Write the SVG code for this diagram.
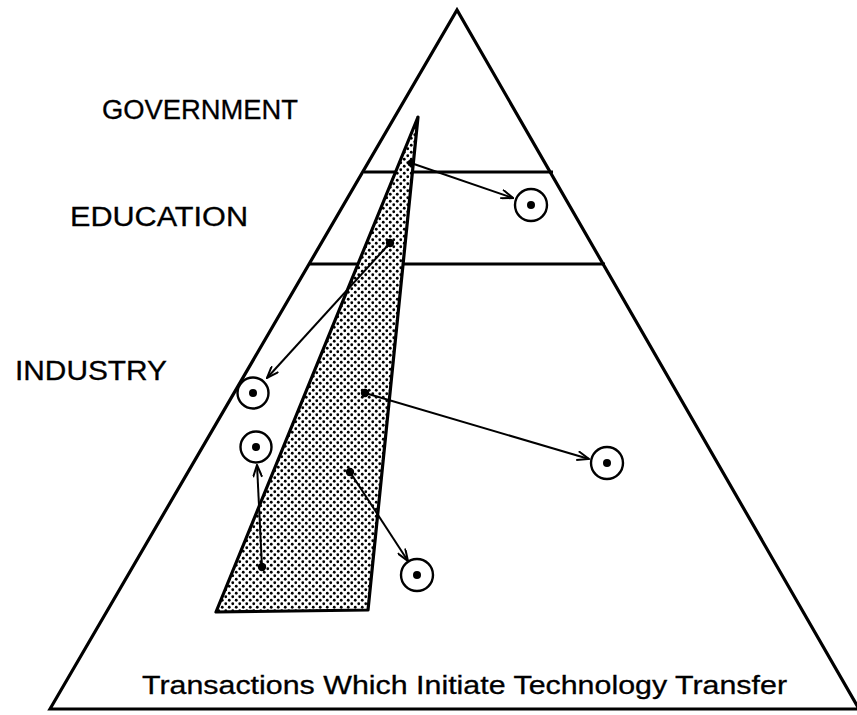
<svg xmlns="http://www.w3.org/2000/svg" width="857" height="715" viewBox="0 0 857 715">
<defs>
<pattern id="stip" width="7" height="7" patternUnits="userSpaceOnUse">
<rect width="7" height="7" fill="#fff"/>
<circle cx="1.75" cy="1.75" r="1.4" fill="#000"/>
<circle cx="5.25" cy="5.25" r="1.4" fill="#000"/>
</pattern>
<marker id="arr" viewBox="0 0 14 10" refX="13" refY="5" markerWidth="14" markerHeight="10" markerUnits="userSpaceOnUse" orient="auto">
<path d="M1,0.5 L13,5 L1,9.5" fill="none" stroke="#000" stroke-width="2"/>
</marker>
<style>
.edge{fill:none;stroke:#000;stroke-width:3.2;stroke-linejoin:miter}
.conn{fill:none;stroke:#000;stroke-width:2;marker-end:url(#arr)}
.ring{fill:#fff;stroke:#000;stroke-width:2.4}
.lbl{font-family:"Liberation Sans",Arial,sans-serif;font-size:27px;fill:#000;stroke:#000;stroke-width:0.3}
.cap{font-family:"Liberation Sans",Arial,sans-serif;font-size:26px;fill:#000;stroke:#000;stroke-width:0.3}
</style>
</defs>
<rect width="857" height="715" fill="#fff"/>
<g id="pyramid">
<path class="edge" d="M50,709 L457,10 L859,709 Z"/>
<line class="edge" x1="364" y1="172" x2="553" y2="172"/>
<line class="edge" x1="310" y1="264" x2="605" y2="264"/>
</g>
<g id="wedge">
<path d="M418,117 L216,612 L368,610 Z" fill="url(#stip)" stroke="#000" stroke-width="3.2" stroke-linejoin="round"/>
</g>
<g id="labels">
<text class="lbl" x="102" y="119" textLength="196" lengthAdjust="spacingAndGlyphs">GOVERNMENT</text>
<text class="lbl" x="70" y="226" textLength="178" lengthAdjust="spacingAndGlyphs">EDUCATION</text>
<text class="lbl" x="15" y="380" textLength="152" lengthAdjust="spacingAndGlyphs">INDUSTRY</text>
<text class="cap" x="142" y="694" textLength="645" lengthAdjust="spacingAndGlyphs">Transactions Which Initiate Technology Transfer</text>
</g>
<g id="connectors">
<line class="conn" x1="411" y1="163" x2="513" y2="198"/>
<line class="conn" x1="390" y1="243" x2="267" y2="378"/>
<line class="conn" x1="365" y1="393" x2="589" y2="459"/>
<line class="conn" x1="350" y1="472" x2="408" y2="561"/>
<line class="conn" x1="262" y1="567" x2="257" y2="465"/>
</g>
<g id="sources">
<circle cx="411" cy="163" r="3.5"/>
<circle cx="390" cy="243" r="4.2"/>
<circle cx="365" cy="393" r="4.2"/>
<circle cx="350" cy="472" r="4.2"/>
<circle cx="262" cy="567" r="4.2"/>
</g>
<g id="target-education">
<circle class="ring" cx="531" cy="205" r="16"/>
<circle cx="531" cy="205" r="4"/>
</g>
<g id="target-industry-1">
<circle class="ring" cx="253" cy="393" r="15.5"/>
<circle cx="253" cy="393" r="4"/>
</g>
<g id="target-industry-2">
<circle class="ring" cx="256" cy="447" r="15.5"/>
<circle cx="256" cy="447" r="4"/>
</g>
<g id="target-industry-3">
<circle class="ring" cx="607" cy="463" r="16"/>
<circle cx="607" cy="463" r="4"/>
</g>
<g id="target-industry-4">
<circle class="ring" cx="417" cy="575" r="16"/>
<circle cx="417" cy="575" r="4"/>
</g>
</svg>
